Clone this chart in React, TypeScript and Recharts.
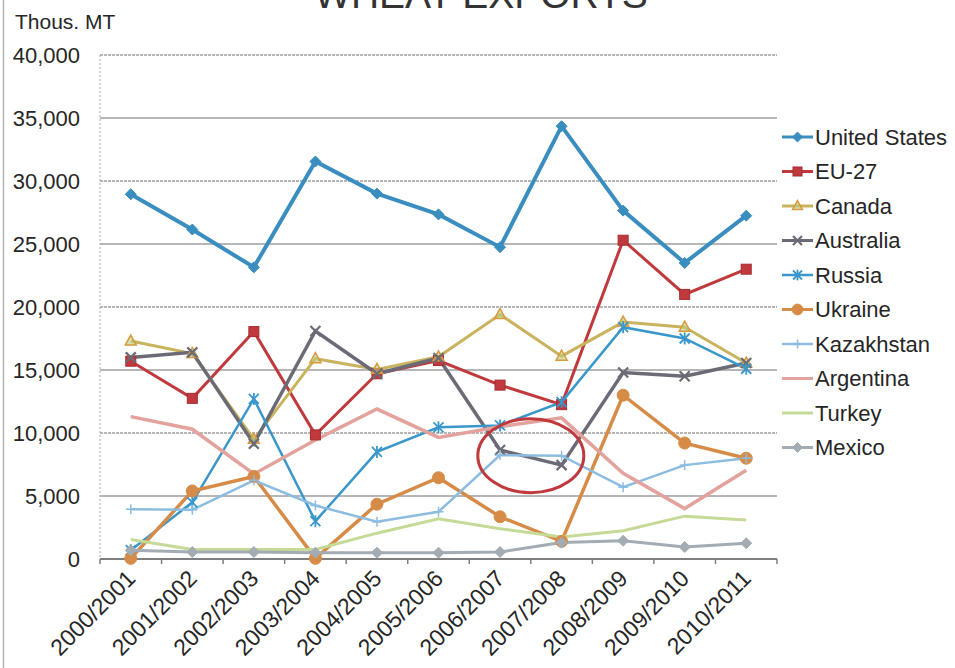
import React from 'react';
import {
  LineChart,
  Line,
  XAxis,
  YAxis,
  ReferenceLine,
  ReferenceDot,
} from 'recharts';

// Marketing years on the category axis
const categories = [
  '2000/2001', '2001/2002', '2002/2003', '2003/2004', '2004/2005', '2005/2006',
  '2006/2007', '2007/2008', '2008/2009', '2009/2010', '2010/2011',
];

// Wheat exports, thousand metric tons
const unitedStates = [28950, 26150, 23150, 31550, 29000, 27350, 24750, 34350, 27650, 23500, 27250];
const eu27 = [15700, 12750, 18050, 9850, 14700, 15750, 13800, 12250, 25300, 21000, 23000];
const canada = [17300, 16300, 9500, 15900, 15050, 16050, 19400, 16100, 18800, 18400, 15550];
const australia = [16000, 16400, 9150, 18100, 14700, 15950, 8650, 7450, 14800, 14500, 15550];
const russia = [700, 4500, 12700, 3000, 8500, 10450, 10600, 12450, 18400, 17500, 15100];
const ukraine = [50, 5400, 6550, 50, 4350, 6450, 3350, 1400, 13000, 9200, 8000];
const kazakhstan = [3950, 3900, 6250, 4250, 2950, 3750, 8250, 8200, 5700, 7450, 8000];
const argentina = [11300, 10300, 6750, 9450, 11900, 9650, 10500, 11200, 6800, 4000, 7050];
const turkey = [1550, 750, 750, 750, 2050, 3200, 2400, 1750, 2250, 3400, 3100];
const mexico = [700, 550, 550, 500, 500, 500, 550, 1300, 1450, 950, 1250];

const yTicks = [0, 5000, 10000, 15000, 20000, 25000, 30000, 35000, 40000];

// Highlighted region (2006/07 – 2007/08 Australia / Kazakhstan dip)
const highlightPeriod = '2006/2007';
const highlightValue = 8200;

type MarkerKind = 'diamond' | 'square' | 'triangle' | 'x' | 'star' | 'circle' | 'plus' | 'none';

interface Series {
  key: string;
  name: string;
  values: number[];
  color: string;
  markerColor: string;
  width: number;
  marker: MarkerKind;
}

const seriesList: Series[] = [
  { key: 'us', name: 'United States', values: unitedStates, color: '#3A8EBF', markerColor: '#3A8EBF', width: 4, marker: 'diamond' },
  { key: 'eu', name: 'EU-27', values: eu27, color: '#C0393C', markerColor: '#C0393C', width: 3, marker: 'square' },
  { key: 'ca', name: 'Canada', values: canada, color: '#C9B35E', markerColor: '#D9993C', width: 3, marker: 'triangle' },
  { key: 'au', name: 'Australia', values: australia, color: '#6B6B77', markerColor: '#6B6B77', width: 3.5, marker: 'x' },
  { key: 'ru', name: 'Russia', values: russia, color: '#3A97CB', markerColor: '#3A97CB', width: 2.5, marker: 'star' },
  { key: 'ua', name: 'Ukraine', values: ukraine, color: '#D68C47', markerColor: '#D68C47', width: 3.5, marker: 'circle' },
  { key: 'kz', name: 'Kazakhstan', values: kazakhstan, color: '#8CBDE0', markerColor: '#8CBDE0', width: 2.5, marker: 'plus' },
  { key: 'ar', name: 'Argentina', values: argentina, color: '#E3A29C', markerColor: '#E3A29C', width: 3.5, marker: 'none' },
  { key: 'tr', name: 'Turkey', values: turkey, color: '#C5DA96', markerColor: '#C5DA96', width: 3, marker: 'none' },
  { key: 'mx', name: 'Mexico', values: mexico, color: '#A3ABB3', markerColor: '#A3ABB3', width: 3, marker: 'diamond' },
];

const data = categories.map((period, i) => {
  const row: Record<string, string | number> = { period };
  seriesList.forEach((s) => {
    row[s.key] = s.values[i];
  });
  return row;
});

// Layout
const WIDTH = 955;
const HEIGHT = 668;
const MARGIN = { top: 55, right: 178, bottom: 0, left: 0 };
const Y_AXIS_WIDTH = 100;
const X_AXIS_HEIGHT = 109;
const PLOT_LEFT = MARGIN.left + Y_AXIS_WIDTH;
const PLOT_RIGHT = WIDTH - MARGIN.right;
const PLOT_BOTTOM = HEIGHT - MARGIN.bottom - X_AXIS_HEIGHT;
const STEP = (PLOT_RIGHT - PLOT_LEFT) / categories.length;
const FONT = '"Liberation Sans", Arial, sans-serif';
const TEXT_COLOR = '#262626';

const LEGEND_LEFT = 770;
const LEGEND_FIRST_ROW = 137;
const LEGEND_ROW_HEIGHT = 34.5;

function Marker({ kind, cx, cy, color, scale = 1 }: { kind: MarkerKind; cx: number; cy: number; color: string; scale?: number }) {
  const h = 5 * scale;
  switch (kind) {
    case 'diamond':
      return (
        <polygon
          points={`${cx},${cy - h * 1.1} ${cx + h * 1.1},${cy} ${cx},${cy + h * 1.1} ${cx - h * 1.1},${cy}`}
          fill={color}
          stroke={color}
          strokeWidth={1}
        />
      );
    case 'square':
      return <rect x={cx - h} y={cy - h} width={h * 2} height={h * 2} fill={color} stroke="#A52B2E" strokeWidth={1} />;
    case 'triangle':
      return (
        <polygon
          points={`${cx},${cy - h * 1.2} ${cx + h * 1.1},${cy + h * 0.8} ${cx - h * 1.1},${cy + h * 0.8}`}
          fill="#B9CF7E"
          fillOpacity={0.6}
          stroke={color}
          strokeWidth={1.5}
        />
      );
    case 'x':
      return (
        <g stroke={color} strokeWidth={2.2}>
          <line x1={cx - h} y1={cy - h} x2={cx + h} y2={cy + h} />
          <line x1={cx - h} y1={cy + h} x2={cx + h} y2={cy - h} />
        </g>
      );
    case 'star':
      return (
        <g stroke={color} strokeWidth={1.8}>
          <line x1={cx - h} y1={cy - h} x2={cx + h} y2={cy + h} />
          <line x1={cx - h} y1={cy + h} x2={cx + h} y2={cy - h} />
          <line x1={cx} y1={cy - h * 1.2} x2={cx} y2={cy + h * 1.2} />
        </g>
      );
    case 'circle':
      return <circle cx={cx} cy={cy} r={h * 1.2} fill={color} stroke={color} />;
    case 'plus':
      return (
        <g stroke={color} strokeWidth={1.5}>
          <line x1={cx - h} y1={cy} x2={cx + h} y2={cy} />
          <line x1={cx} y1={cy - h} x2={cx} y2={cy + h} />
        </g>
      );
    default:
      return null;
  }
}

function makeDot(s: Series) {
  return (props: any) => {
    const { cx, cy, index } = props;
    if (s.marker === 'none' || cx == null || cy == null) {
      return <g key={`${s.key}-${index}`} />;
    }
    return (
      <g key={`${s.key}-${index}`}>
        <Marker kind={s.marker} cx={cx} cy={cy} color={s.markerColor} />
      </g>
    );
  };
}

function XTick(props: any) {
  const { x, payload, index } = props;
  const ax = x + 6;
  const ay = PLOT_BOTTOM + 21;
  return (
    <g>
      <line x1={x + STEP / 2} y1={PLOT_BOTTOM} x2={x + STEP / 2} y2={PLOT_BOTTOM + 5} stroke="#7F7F7F" strokeWidth={1.5} />
      {index === 0 && (
        <line x1={x - STEP / 2} y1={PLOT_BOTTOM} x2={x - STEP / 2} y2={PLOT_BOTTOM + 5} stroke="#7F7F7F" strokeWidth={1.5} />
      )}
      <text
        x={ax}
        y={ay}
        transform={`rotate(-45 ${ax} ${ay})`}
        textAnchor="end"
        fontSize={23}
        fontFamily={FONT}
        fill={TEXT_COLOR}
      >
        {payload.value}
      </text>
    </g>
  );
}

function LegendBlock() {
  return (
    <g>
      {seriesList.map((s, i) => {
        const cy = LEGEND_FIRST_ROW + LEGEND_ROW_HEIGHT * i;
        return (
          <g key={s.key}>
            <line x1={LEGEND_LEFT + 12} y1={cy} x2={LEGEND_LEFT + 43} y2={cy} stroke={s.color} strokeWidth={Math.min(s.width, 3)} />
            <Marker kind={s.marker} cx={LEGEND_LEFT + 27.5} cy={cy} color={s.markerColor} scale={0.9} />
            <text x={LEGEND_LEFT + 45} y={cy} dy="0.36em" fontSize={22} fontFamily={FONT} fill={TEXT_COLOR}>
              {s.name}
            </text>
          </g>
        );
      })}
    </g>
  );
}

function HighlightRing(props: any) {
  const { cx, cy } = props;
  if (cx == null || cy == null) return <g />;
  return <ellipse cx={cx + STEP / 2} cy={cy} rx={53} ry={37} fill="none" stroke="#C0393C" strokeWidth={3} />;
}

export default function App() {
  return (
    <div
      style={{
        position: 'absolute',
        left: 0,
        top: 0,
        width: WIDTH,
        height: HEIGHT,
        background: '#ffffff',
        fontFamily: FONT,
        overflow: 'hidden',
      }}
    >
      <LineChart width={WIDTH} height={HEIGHT} data={data} margin={MARGIN}>
        {yTicks
          .filter((v) => v > 0)
          .map((v) => (
            <ReferenceLine
              key={v}
              y={v}
              stroke="#9E9E9E"
              strokeWidth={1.5}
              strokeDasharray={v % 10000 === 0 ? '3 1' : undefined}
            />
          ))}
        <XAxis
          dataKey="period"
          interval={0}
          height={X_AXIS_HEIGHT}
          padding={{ left: STEP / 2, right: STEP / 2 }}
          tickLine={false}
          tick={<XTick />}
          axisLine={{ stroke: '#7F7F7F', strokeWidth: 2 }}
        />
        <YAxis
          width={Y_AXIS_WIDTH}
          domain={[0, 40000]}
          ticks={yTicks}
          interval={0}
          tickLine={false}
          tickMargin={14}
          tickFormatter={(v: number) => v.toLocaleString('en-US')}
          tick={{ fontSize: 22, fill: TEXT_COLOR, fontFamily: FONT }}
          axisLine={{ stroke: '#A8A8A8', strokeDasharray: '2 2' }}
        />
        {seriesList.map((s) => (
          <Line
            key={s.key}
            type="linear"
            dataKey={s.key}
            name={s.name}
            stroke={s.color}
            strokeWidth={s.width}
            dot={makeDot(s)}
            activeDot={false}
            isAnimationActive={false}
          />
        ))}
        <ReferenceDot x={highlightPeriod} y={highlightValue} r={1} shape={<HighlightRing />} />
      </LineChart>
      <svg
        width={WIDTH}
        height={HEIGHT}
        style={{ position: 'absolute', left: 0, top: 0, pointerEvents: 'none' }}
      >
        <line x1={3.5} y1={0} x2={3.5} y2={HEIGHT} stroke="#B4B4B4" strokeWidth={1.5} />
        <text x={481} y={8} textAnchor="middle" fontSize={39} fontFamily={FONT} fill="#333333">
          WHEAT EXPORTS
        </text>
        <text x={15} y={29} fontSize={21} fontFamily={FONT} fill={TEXT_COLOR}>
          Thous. MT
        </text>
        <LegendBlock />
      </svg>
    </div>
  );
}
